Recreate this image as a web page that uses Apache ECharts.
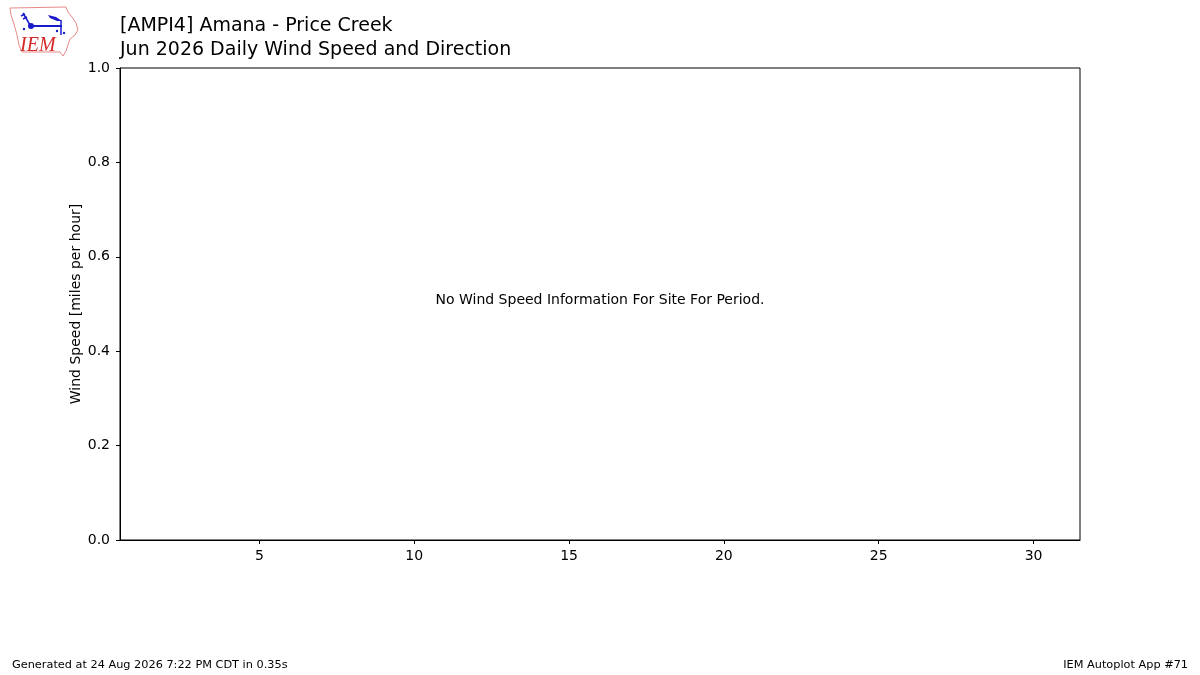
<!DOCTYPE html>
<html>
<head>
<meta charset="utf-8">
<title>Daily Wind Speed and Direction</title>
<script src="https://cdn.jsdelivr.net/npm/echarts@6/dist/echarts.min.js"></script>
<style>
  html, body { margin: 0; padding: 0; background: #fff; }
  #main { width: 1200px; height: 675px; }
</style>
</head>
<body>
<div id="main"></div>
<script>
// data for the period - nothing reported, so the series stay empty
var days = [];
var windSpeed = [];
var xTicks = [5, 10, 15, 20, 25, 30];
var yTicks = [0, 0.2, 0.4, 0.6, 0.8, 1.0];

var titleLine1 = '[AMPI4] Amana - Price Creek';
var titleLine2 = 'Jun 2026 Daily Wind Speed and Direction';
var noDataMsg = 'No Wind Speed Information For Site For Period.';
var footLeft = 'Generated at 24 Aug 2026 7:22 PM CDT in 0.35s';
var footRight = 'IEM Autoplot App #71';

var font = 'DejaVu Sans';
var chart = echarts.init(document.getElementById('main'), null, { renderer: 'canvas' });

// rough IEM logo: state outline, wind vane, letters
var logo = [
  {
    type: 'polygon',
    shape: { points: [[10, 8], [66, 7], [68, 12], [72, 17], [76, 23], [78, 30], [75, 35], [70, 39], [68, 45], [66, 51], [63, 56], [60, 52], [22, 52], [19, 45], [17, 35], [14, 24], [11, 15]] },
    style: { fill: '#fff', stroke: '#e88a8a', lineWidth: 1 }
  },
  { type: 'line', shape: { x1: 31, y1: 26, x2: 62, y2: 26 }, style: { stroke: '#1a1acc', lineWidth: 2 } },
  { type: 'line', shape: { x1: 23, y1: 13, x2: 30, y2: 25 }, style: { stroke: '#1a1acc', lineWidth: 1.5 } },
  { type: 'line', shape: { x1: 21, y1: 16, x2: 25, y2: 14 }, style: { stroke: '#1a1acc', lineWidth: 1.5 } },
  { type: 'line', shape: { x1: 23, y1: 19, x2: 27, y2: 17 }, style: { stroke: '#1a1acc', lineWidth: 1.5 } },
  { type: 'circle', shape: { cx: 31, cy: 26, r: 3 }, style: { fill: '#1a1acc' } },
  { type: 'polygon', shape: { points: [[48, 15], [56, 17], [62, 21], [57, 21], [50, 18]] }, style: { fill: '#1a1acc' } },
  { type: 'line', shape: { x1: 61, y1: 20, x2: 61, y2: 35 }, style: { stroke: '#1a1acc', lineWidth: 1.5 } },
  { type: 'circle', shape: { cx: 57, cy: 31, r: 1.2 }, style: { fill: '#1a1acc' } },
  { type: 'circle', shape: { cx: 64, cy: 33, r: 1.2 }, style: { fill: '#1a1acc' } },
  { type: 'circle', shape: { cx: 24, cy: 29, r: 1.2 }, style: { fill: '#1a1acc' } },
  {
    type: 'text', left: 20, top: 36,
    style: { text: 'IEM', fill: '#d42a2a', font: 'italic 20px "Liberation Serif"' }
  }
];

var option = {
  backgroundColor: '#fff',
  animation: false,
  title: [
    { text: titleLine1, left: 120, top: 17, padding: 0, textStyle: { fontFamily: font, fontSize: 19, fontWeight: 'normal', color: '#000' } },
    { text: titleLine2, left: 120, top: 41, padding: 0, textStyle: { fontFamily: font, fontSize: 19, fontWeight: 'normal', color: '#000' } }
  ],
  grid: {
    left: 120, right: 120, top: 68, bottom: 135,
    show: true, borderColor: '#000', borderWidth: 1, backgroundColor: '#fff'
  },
  xAxis: {
    type: 'value',
    min: 0.5,
    max: 31.5,
    splitLine: { show: false },
    axisLine: { show: true, onZero: false, lineStyle: { color: '#000', width: 1 } },
    axisTick: { show: true, length: 4, lineStyle: { color: '#000' }, customValues: xTicks },
    axisLabel: { fontFamily: font, fontSize: 14, color: '#000', margin: 9, customValues: xTicks }
  },
  yAxis: {
    type: 'value',
    min: 0,
    max: 1,
    interval: 0.2,
    name: 'Wind Speed [miles per hour]',
    nameLocation: 'middle',
    nameGap: 37,
    nameMoveOverlap: false,
    nameTextStyle: { fontFamily: font, fontSize: 14, color: '#000' },
    splitLine: { show: false },
    axisLine: { show: true, lineStyle: { color: '#000', width: 1 } },
    axisTick: { show: true, length: 4, lineStyle: { color: '#000' } },
    axisLabel: {
      fontFamily: font, fontSize: 14, color: '#000', margin: 10,
      formatter: function (v) { return v.toFixed(1); }
    }
  },
  series: [
    {
      type: 'bar',
      data: days.map(function (d, i) { return [d, windSpeed[i]]; })
    }
  ],
  graphic: logo.concat([
    {
      type: 'text', left: 'center', top: 293,
      style: { text: noDataMsg, fill: '#000', font: '14px "DejaVu Sans"' }
    },
    {
      type: 'text', left: 12, top: 660,
      style: { text: footLeft, fill: '#000', font: '11.3px "DejaVu Sans"' }
    },
    {
      type: 'text', right: 12, top: 660,
      style: { text: footRight, fill: '#000', font: '11.3px "DejaVu Sans"' }
    }
  ])
};

chart.setOption(option);
</script>
</body>
</html>
